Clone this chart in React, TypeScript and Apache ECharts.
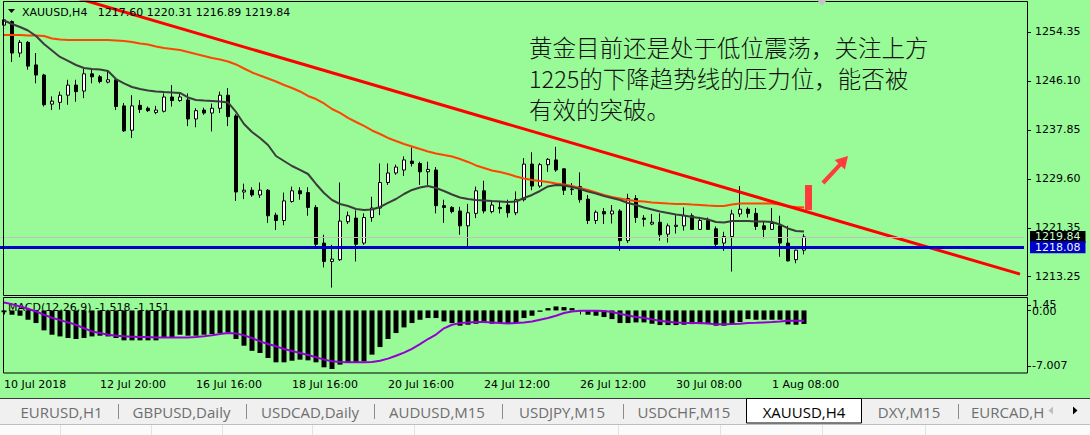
import React, { useEffect, useRef } from "react";
import * as echarts from "echarts";

// ---------- data ----------
const opens = [1255.5,1256.1,1250.8,1252.6,1248.8,1247.1,1242.2,1242.5,1243.7,1245.4,
1244.4,1247.3,1246.8,1245.9,1246.3,1241.9,1237.8,1242.0,1241.5,1240.8,
1241.0,1243.4,1242.8,1242.9,1239.7,1241.2,1240.7,1241.5,1243.7,1240.2,
1227.4,1227.7,1226.9,1227.7,1223.5,1222.6,1225.8,1227.6,1227.3,1224.8,
1218.8,1215.7,1216.0,1222.4,1223.0,1218.8,1223.1,1224.7,1229.0,1230.6,
1231.1,1232.6,1232.2,1230.8,1231.1,1225.1,1224.8,1224.2,1221.7,1223.8,
1227.6,1224.1,1224.6,1225.2,1223.9,1226.1,1232.1,1228.4,1232.0,1232.8,
1231.3,1227.8,1228.3,1226.2,1222.6,1224.1,1223.7,1224.2,1219.2,1226.3,
1223.0,1222.0,1222.3,1220.3,1221.6,1221.7,1223.4,1221.1,1222.6,1221.2,
1218.8,1219.9,1223.7,1224.5,1223.8,1221.7,1221.1,1221.7,1218.8,1216.0,1217.60];
const closes = [1256.4,1250.8,1252.6,1248.6,1247.1,1242.1,1242.7,1243.7,1245.4,1244.3,
1247.3,1246.8,1246.0,1246.3,1241.8,1237.7,1241.9,1241.3,1241.1,1241.2,
1243.4,1242.8,1243.4,1239.7,1241.1,1240.7,1241.5,1243.7,1240.1,1227.4,
1227.7,1226.9,1227.7,1223.4,1222.6,1225.9,1227.6,1227.1,1224.8,1218.6,
1215.7,1216.1,1222.5,1223.4,1218.6,1223.1,1224.7,1229.0,1230.6,1231.6,
1232.8,1232.2,1230.8,1231.2,1225.1,1224.8,1224.1,1221.7,1223.9,1227.6,
1224.2,1225.2,1224.8,1223.9,1226.1,1232.1,1228.4,1232.0,1232.9,1231.1,
1227.7,1227.9,1226.1,1222.6,1224.0,1223.7,1224.2,1219.2,1226.3,1223.1,
1222.8,1222.3,1220.2,1221.7,1221.8,1223.4,1221.1,1222.6,1221.1,1218.6,
1219.9,1223.7,1224.5,1223.8,1221.6,1221.1,1222.1,1218.8,1215.8,1217.6,1219.84];
const lows = [1255.2,1249.3,1250.1,1248.0,1245.7,1241.8,1241.2,1241.3,1242.1,1242.6,
1243.2,1245.7,1245.7,1245.7,1241.2,1237.5,1236.5,1240.7,1240.9,1240.5,
1240.8,1241.8,1242.6,1238.5,1238.3,1240.4,1237.6,1240.7,1238.5,1225.9,
1226.2,1226.6,1226.4,1222.2,1221.0,1221.8,1225.6,1226.1,1223.4,1218.2,
1214.7,1211.3,1215.8,1222.0,1215.7,1218.5,1222.4,1223.5,1228.6,1230.3,
1230.1,1231.7,1228.6,1228.6,1223.8,1222.2,1223.8,1220.2,1218.2,1223.0,
1223.8,1223.8,1223.8,1223.1,1223.5,1225.8,1227.7,1228.1,1230.8,1230.8,
1226.9,1226.9,1225.6,1222.0,1222.0,1222.0,1222.1,1217.5,1218.8,1222.2,
1221.6,1221.8,1219.2,1218.9,1220.4,1220.9,1221.0,1221.0,1221.0,1218.2,
1217.5,1214.0,1223.2,1223.1,1221.0,1219.6,1221.0,1216.5,1215.7,1215.4,1216.89];
const highs = [1256.8,1256.3,1253.0,1252.8,1250.8,1247.3,1243.5,1244.3,1246.3,1246.3,
1248.2,1248.2,1247.1,1247.9,1246.5,1242.4,1243.7,1242.9,1241.8,1241.9,
1244.0,1245.4,1243.9,1244.0,1241.5,1241.6,1242.3,1244.3,1244.9,1240.5,
1228.8,1228.2,1229.0,1227.9,1223.9,1227.3,1228.3,1228.2,1228.2,1225.2,
1220.2,1218.5,1229.0,1224.1,1224.3,1223.8,1226.6,1232.2,1232.2,1232.0,
1233.4,1234.9,1232.5,1232.5,1231.6,1226.1,1225.0,1224.9,1225.4,1228.3,
1229.3,1225.8,1225.9,1226.1,1227.5,1233.1,1234.1,1232.3,1233.1,1235.0,
1231.4,1228.9,1230.7,1226.9,1224.3,1224.7,1225.2,1224.5,1227.1,1226.9,
1223.5,1223.7,1223.8,1222.1,1223.5,1224.8,1223.8,1223.2,1223.1,1221.6,
1220.7,1224.4,1228.4,1224.8,1224.7,1222.4,1224.7,1223.4,1221.7,1217.7,1220.31];

const maFast = [1256.29,1255.7,1255.19,1254.6,1253.68,1252.33,1251.23,1250.14,1249.47,1248.79,
1248.29,1248.12,1248.03,1247.78,1246.43,1245.68,1245.09,1244.75,1244.5,1244.33,
1244.24,1244.16,1244.08,1243.32,1242.9,1242.81,1242.73,1242.64,1242.48,1240.88,
1238.85,1237.51,1236.5,1235.32,1233.46,1232.62,1231.78,1231.11,1230.43,1228.75,
1227.23,1226.05,1225.38,1225.04,1224.54,1224.37,1224.45,1224.87,1225.55,1226.22,
1227.06,1227.74,1228.16,1228.41,1228.07,1227.57,1226.98,1226.48,1226.22,1226.05,
1225.97,1225.88,1225.8,1225.72,1225.8,1226.39,1226.9,1227.57,1228.33,1228.58,
1228.5,1228.24,1227.91,1227.48,1227.15,1226.73,1226.39,1226.05,1225.55,1225.21,
1224.79,1224.45,1224.11,1223.86,1223.61,1223.44,1223.19,1223.02,1222.77,1222.35,
1222.26,1222.52,1222.52,1222.52,1222.43,1222.43,1222.35,1221.93,1221.26,1220.83,1220.75];

const maSlow = [1253.84,1253.84,1253.84,1253.76,1253.76,1253.68,1253.26,1253.09,1253.0,1253.0,
1253.0,1253.0,1253.0,1253.0,1252.92,1252.83,1252.67,1252.41,1252.24,1251.91,
1251.66,1251.49,1251.32,1250.98,1250.64,1250.31,1249.97,1249.72,1249.38,1248.88,
1248.2,1247.53,1247.02,1246.52,1246.01,1245.42,1244.92,1244.33,1243.57,1243.06,
1242.31,1241.38,1240.71,1239.87,1239.19,1238.52,1237.76,1237.17,1236.5,1235.99,
1235.49,1235.07,1234.64,1234.22,1233.89,1233.63,1233.38,1232.96,1232.46,1231.87,
1231.45,1231.03,1230.77,1230.43,1230.01,1229.67,1229.42,1229.25,1229.08,1228.83,
1228.66,1228.41,1228.07,1227.74,1227.32,1226.9,1226.56,1226.31,1226.05,1225.88,
1225.8,1225.63,1225.55,1225.46,1225.38,1225.38,1225.29,1225.21,1225.12,1225.04,
1225.04,1225.29,1225.46,1225.46,1225.46,1225.46,1225.46,1225.29,1224.96,1224.87,1224.79];

const macdHist = [-0.2,-0.48,-0.59,-1.04,-1.41,-2.23,-2.72,-2.91,-3.09,-3.2,
-3.09,-2.91,-2.83,-2.91,-3.09,-3.35,-3.35,-3.35,-3.35,-3.35,
-3.09,-3.02,-2.72,-2.83,-2.83,-2.72,-2.64,-2.53,-2.46,-3.2,
-3.95,-4.52,-4.77,-5.33,-5.81,-5.81,-5.63,-5.51,-5.59,-5.81,
-6.37,-6.56,-6.07,-5.89,-5.81,-5.7,-4.95,-4.1,-3.2,-2.53,
-1.9,-1.41,-1.04,-0.85,-0.85,-1.23,-1.41,-1.71,-1.6,-1.49,
-1.41,-1.49,-1.41,-1.41,-1.41,-0.85,-0.59,-0.15,0.26,0.45,
0.38,0.26,-0.07,-0.48,-0.59,-0.74,-0.97,-1.41,-1.41,-1.34,
-1.34,-1.49,-1.64,-1.64,-1.64,-1.6,-1.53,-1.53,-1.53,-1.71,
-1.71,-1.56,-1.3,-0.97,-1.04,-1.04,-1.04,-1.04,-1.56,-1.6,-1.518];

const macdSignal = [0.9,0.71,0.45,0.19,-0.11,-0.48,-0.82,-1.08,-1.34,-1.6,
-2.0,-2.35,-2.53,-2.72,-2.83,-2.9,-2.94,-2.98,-2.98,-3.02,
-3.02,-3.02,-3.02,-3.02,-2.98,-2.9,-2.79,-2.64,-2.53,-2.57,
-2.79,-3.09,-3.46,-3.76,-4.02,-4.32,-4.54,-4.77,-4.99,-5.25,
-5.51,-5.7,-5.78,-5.81,-5.81,-5.81,-5.78,-5.63,-5.4,-5.07,
-4.72,-4.3,-3.77,-3.2,-2.7,-2.0,-1.6,-1.42,-1.34,-1.3,
-1.3,-1.34,-1.41,-1.45,-1.41,-1.34,-1.23,-1.04,-0.85,-0.59,
-0.29,-0.11,-0.03,-0.03,-0.03,-0.07,-0.18,-0.37,-0.56,-0.74,
-0.85,-1.0,-1.15,-1.26,-1.34,-1.38,-1.41,-1.41,-1.45,-1.56,
-1.56,-1.53,-1.49,-1.41,-1.38,-1.34,-1.3,-1.23,-1.15,-1.15,-1.151];

const xTickLabels = ["10 Jul 2018","12 Jul 20:00","16 Jul 16:00","18 Jul 16:00","20 Jul 16:00","24 Jul 12:00","26 Jul 12:00","30 Jul 08:00","1 Aug 08:00"];
const priceTicks = [1254.35, 1246.10, 1237.85, 1229.60, 1221.35, 1213.25];
// MACD window labels: max, zero and min of the indicator window (label anchor values)
const macdEdgeLabels = ["1.45", "-7.007"];
const macdEdgeValues = [0.62, -6.22];
const macdZeroLabel = "0.00";
const macdZeroValue = -0.12;
const supportLevel = 1218.08;
const lastPrice = 1219.84;
const trendLine = [[0, 1263.65], [127, 1213.57]];
const titleText = "XAUUSD,H4   1217.60 1220.31 1216.89 1219.84";
const macdTitle = "MACD(12,26,9) -1.518 -1.151";
const noteText = "黄金目前还是处于低位震荡，关注上方\n1225的下降趋势线的压力位，能否被\n有效的突破。";
const tabLabels = ["EURUSD,H1","GBPUSD,Daily","USDCAD,Daily","AUDUSD,M15","USDJPY,M15","USDCHF,M15","XAUUSD,H4","DXY,M15"];
const activeTab = "XAUUSD,H4";
const lastTab = "EURCAD,H1";

const SLOTS = 128;
const TICK_EVERY = 12;

export default function App() {
  const ref = useRef<HTMLDivElement>(null);
  useEffect(() => {
    document.body.style.margin = "0";
    const chart = echarts.init(ref.current!, null, { renderer: "svg" });
    const categories = Array.from({ length: SLOTS }, (_, i) => String(i));
    const candles = opens.map((o, i) => [o, closes[i], lows[i], highs[i]]);
    const showTick = (idx: number) => idx % TICK_EVERY === 0 && idx / TICK_EVERY < xTickLabels.length;
    const font = "DejaVu Sans";
    const tabCenters = [61.5, 181.5, 310, 437, 562, 684, 804, 909];
    const tabSeps = [118.5, 246.5, 374.5, 502.5, 623.5, 958.5];

    const graphics: any[] = [
      // panel borders
      { type: "rect", z: 50, shape: { x: 3.5, y: 1.5, width: 1024, height: 294 }, style: { fill: "none", stroke: "#000", lineWidth: 1 } },
      { type: "rect", z: 50, shape: { x: 3.5, y: 297.5, width: 1024, height: 75.5 }, style: { fill: "none", stroke: "#000", lineWidth: 1 } },
      // title
      { type: "polygon", z: 60, shape: { points: [[8, 9], [15, 9], [11.5, 13]] }, style: { fill: "#000" } },
      { type: "text", z: 60, x: 22, y: 12, style: { text: titleText, fontFamily: font, fontSize: 11, fill: "#000", verticalAlign: "middle" } },
      { type: "polygon", z: 60, shape: { points: [[817, 0], [827, 0], [822, 6]] }, style: { fill: "#C4C4C4" } },
      // note
      { type: "text", z: 60, x: 529, y: 31.2, style: { text: noteText, fontFamily: "Noto Sans CJK SC", fontSize: 23.5, fontWeight: 300, lineHeight: 31, fill: "#111", verticalAlign: "top" } },
      // red annotations
      { type: "rect", z: 60, shape: { x: 805, y: 185, width: 7, height: 25 }, style: { fill: "#FF3B3B" } },
      { type: "polygon", z: 60, shape: { points: [[821.5, 181.6], [838.3, 163.4], [834.7, 160], [848, 156], [844.9, 169.6], [841.3, 166.2], [824.5, 184.4]] }, style: { fill: "#FF3B3B" } },
      // MACD title
      { type: "text", z: 0, x: 8, y: 307, style: { text: macdTitle, fontFamily: font, fontSize: 11, fill: "#000", verticalAlign: "middle" } },
      // tab bar
      { type: "rect", z: 70, shape: { x: 0, y: 398, width: 1090, height: 26 }, style: { fill: "#F0F0F0" } },
      { type: "rect", z: 70, shape: { x: 0, y: 424, width: 1090, height: 11 }, style: { fill: "#FBFBFB" } },
      { type: "line", z: 71, shape: { x1: 0, y1: 398.5, x2: 1090, y2: 398.5 }, style: { stroke: "#3C3C3C", lineWidth: 1 } },
      { type: "line", z: 71, shape: { x1: 0, y1: 424.5, x2: 1090, y2: 424.5 }, style: { stroke: "#BEBEBE", lineWidth: 1 } },
      ...[60, 151, 222, 312, 414, 618, 720, 822, 925].map((x) => ({ type: "line", z: 71, shape: { x1: x + 0.5, y1: 425, x2: x + 0.5, y2: 435 }, style: { stroke: "#E2E2E2", lineWidth: 1 } })),
      ...tabSeps.map((x) => ({ type: "line", z: 71, shape: { x1: x, y1: 404, x2: x, y2: 419 }, style: { stroke: "#8C8C8C", lineWidth: 1 } })),
      { type: "rect", z: 72, shape: { x: 746.5, y: 398.5, width: 115, height: 24.5 }, style: { fill: "#FFFFFF", stroke: "#000", lineWidth: 1 } },
      ...tabLabels.map((t, i) => ({ type: "text", z: 73, x: tabCenters[i], y: 411.5, style: { text: t, fontFamily: "Open Sans", fontSize: 15, fill: t === activeTab ? "#000" : "#6E6E6E", align: "center", verticalAlign: "middle" } })),
      { type: "text", z: 73, x: 971, y: 411.5, style: { text: lastTab, fontFamily: "Open Sans", fontSize: 15, fill: "#6E6E6E", verticalAlign: "middle" } },
      { type: "rect", z: 74, shape: { x: 1044, y: 400, width: 46, height: 23 }, style: { fill: "#F0F0F0" } },
      { type: "polygon", z: 75, shape: { points: [[1053, 406.5], [1053, 414.5], [1048.5, 410.5]] }, style: { fill: "#BDBDBD" } },
      { type: "polygon", z: 75, shape: { points: [[1073, 406.5], [1073, 414.5], [1077.5, 410.5]] }, style: { fill: "#000" } },
    ];

    const labelFromList = (vals: number[], labels: string[]) => (v: number) => {
      const k = vals.findIndex((t) => Math.abs(t - v) < 1e-6);
      return k >= 0 ? labels[k] : "";
    };

    const option: any = {
      animation: false,
      backgroundColor: "#98FB98",
      grid: [
        { left: 0, top: 2, width: 1024, height: 293, show: false },
        { left: 0, top: 297.5, width: 1024, height: 75.5, show: false },
      ],
      xAxis: [
        { type: "category", gridIndex: 0, data: categories, boundaryGap: true, show: false },
        {
          type: "category", gridIndex: 1, data: categories, boundaryGap: true,
          axisLine: { show: false },
          axisTick: { show: true, alignWithLabel: true, interval: (i: number) => showTick(i), length: 4, lineStyle: { color: "#000" } },
          axisLabel: { show: true, interval: (i: number) => showTick(i), formatter: (_v: string, i: number) => xTickLabels[i / TICK_EVERY] ?? "", align: "left", margin: 6, fontSize: 11, fontFamily: font, color: "#000" },
          splitLine: { show: false },
        },
      ],
      yAxis: [
        {
          type: "value", gridIndex: 0, position: "right", offset: 3, min: 1210.05, max: 1259.40,
          splitLine: { show: false }, axisLine: { show: false },
          axisTick: { show: true, customValues: priceTicks, length: 4, lineStyle: { color: "#000" } },
          axisLabel: { customValues: priceTicks, hideOverlap: false, formatter: (v: number) => v.toFixed(2), margin: 8, fontSize: 11, fontFamily: font, color: "#000" },
        },
        {
          type: "value", gridIndex: 1, position: "right", offset: 3, min: -7.007, max: 1.45,
          splitLine: { show: false }, axisLine: { show: false },
          axisTick: { show: true, customValues: macdEdgeValues, length: 4, lineStyle: { color: "#000" } },
          axisLabel: {
            customValues: macdEdgeValues, hideOverlap: false,
            formatter: labelFromList(macdEdgeValues, macdEdgeLabels),
            margin: 5, fontSize: 11, fontFamily: font, color: "#000",
          },
        },
        {
          type: "value", gridIndex: 1, position: "right", offset: 3, min: -7.007, max: 1.45,
          splitLine: { show: false }, axisLine: { show: false },
          axisTick: { show: true, customValues: [0], length: 4, lineStyle: { color: "#000" } },
          axisLabel: {
            customValues: [macdZeroValue], hideOverlap: false,
            formatter: () => macdZeroLabel,
            margin: 5, fontSize: 11, fontFamily: font, color: "#000",
          },
        },
      ],
      series: [
        {
          type: "candlestick", xAxisIndex: 0, yAxisIndex: 0, data: candles, barWidth: 4,
          itemStyle: { color: "#FFFFFF", color0: "#000000", borderColor: "#000000", borderColor0: "#000000", borderColorDoji: "#000000", borderWidth: 1 },
          markLine: {
            silent: true, symbol: ["none", "none"], animation: false,
            data: [
              { yAxis: lastPrice, lineStyle: { color: "#C0C0C0", width: 1, type: "solid" }, label: { show: true, position: "end", distance: 6, formatter: lastPrice.toFixed(2), backgroundColor: "#000", color: "#C8FFC8", padding: [0, 5], lineHeight: 12, fontSize: 11, fontFamily: font } },
              { yAxis: supportLevel, lineStyle: { color: "#0000CD", width: 3, type: "solid" }, label: { show: true, position: "end", distance: 6, formatter: supportLevel.toFixed(2), backgroundColor: "#0000C8", color: "#E8FFE8", padding: [0, 5], lineHeight: 12, fontSize: 11, fontFamily: font } },
            ],
          },
        },
        { type: "line", xAxisIndex: 0, yAxisIndex: 0, data: maSlow, symbol: "none", lineStyle: { color: "#FF4500", width: 2 }, z: 3 },
        { type: "line", xAxisIndex: 0, yAxisIndex: 0, data: maFast, symbol: "none", lineStyle: { color: "#3C3C3C", width: 2 }, z: 3 },
        { type: "line", xAxisIndex: 0, yAxisIndex: 0, data: trendLine, symbol: "none", lineStyle: { color: "#FF0000", width: 3 }, z: 4, clip: true },
        { type: "bar", xAxisIndex: 1, yAxisIndex: 1, data: macdHist, barWidth: 5, itemStyle: { color: "#000" } },
        { type: "line", xAxisIndex: 1, yAxisIndex: 1, data: macdSignal, symbol: "none", lineStyle: { color: "#9400D3", width: 2 }, z: 3 },
      ],
      graphic: graphics,
    };
    chart.setOption(option);
    return () => chart.dispose();
  }, []);
  return <div ref={ref} style={{ width: 1090, height: 435 }} />;
}
